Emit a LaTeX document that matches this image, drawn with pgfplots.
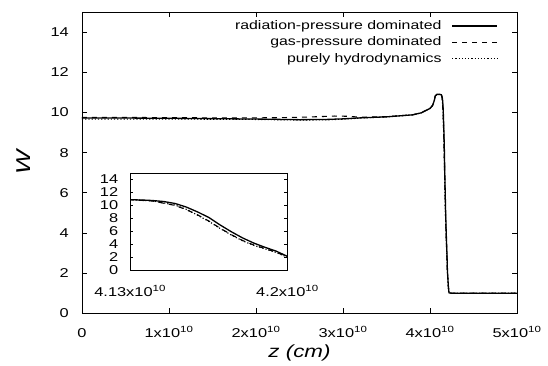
\documentclass[border=0pt]{standalone}
\usepackage{pgfplots}
\pgfplotsset{compat=1.18}
\usepackage{fontspec}
\setmainfont{Liberation Sans}[FakeStretch=1.28]
\newcommand{\tf}{\fontsize{12.8bp}{15bp}\selectfont}
\newcommand{\gf}{\fontsize{12.4bp}{15bp}\selectfont}
\newcommand{\lf}{\fontsize{17.5bp}{20bp}\selectfont\itshape}
\newcommand{\wf}{\fontsize{20bp}{22bp}\selectfont\itshape}
\newcommand{\sx}[1]{#1x10\textsuperscript{10}}

\pgfplotstableread{
z W
0.00 9.72
0.50 9.72
1.00 9.71
1.50 9.69
2.00 9.67
2.50 9.64
2.80 9.65
3.00 9.68
3.20 9.73
3.50 9.78
3.80 9.88
3.90 9.98
4.00 10.20
4.03 10.35
4.05 10.60
4.06 10.82
4.08 10.90
4.11 10.90
4.130 10.88
4.135 10.84
4.140 10.76
4.145 10.60
4.150 10.30
4.155 9.75
4.160 9.00
4.165 8.15
4.170 7.00
4.175 5.95
4.180 5.00
4.185 4.20
4.190 3.55
4.195 2.95
4.200 2.15
4.210 1.40
4.218 1.02
4.250 1.00
5.000 1.00
}\rad
\pgfplotstableread{
z W
0.00 9.75
0.50 9.75
1.00 9.74
1.50 9.73
2.00 9.73
2.30 9.74
2.60 9.77
2.90 9.82
3.05 9.81
3.20 9.76
3.50 9.79
3.80 9.88
3.90 9.98
4.00 10.20
4.03 10.35
4.05 10.60
4.06 10.82
4.08 10.90
4.11 10.90
4.130 10.88
4.140 10.68
4.150 10.00
4.155 9.35
4.160 8.55
4.165 7.60
4.170 6.50
4.175 5.50
4.180 4.60
4.185 3.90
4.190 3.35
4.195 2.80
4.200 2.05
4.210 1.35
4.218 1.02
4.250 1.00
5.000 1.00
}\gas
\pgfplotstableread{
z W
0.00 9.67
0.50 9.67
1.00 9.67
1.50 9.66
2.00 9.65
2.50 9.62
2.80 9.63
3.00 9.66
3.20 9.72
3.50 9.78
3.80 9.88
3.90 9.98
4.00 10.20
4.03 10.35
4.05 10.60
4.06 10.82
4.08 10.90
4.11 10.90
4.130 10.88
4.140 10.70
4.150 10.05
4.155 9.40
4.160 8.50
4.165 7.55
4.170 6.45
4.175 5.45
4.180 4.55
4.185 3.85
4.190 3.30
4.195 2.75
4.200 2.00
4.210 1.35
4.218 1.02
4.250 1.00
5.000 1.00
}\hyd

\begin{document}
\begin{tikzpicture}
\begin{axis}[
  name=main,
  at={(0,0)}, anchor=south west,
  scale only axis, width=435bp, height=301.3bp,
  xmin=0, xmax=5, ymin=0, ymax=15,
  xtick={0,1,2,3,4,5},
  xticklabels={0,\sx{1},\sx{2},\sx{3},\sx{4},\sx{5}},
  ytick={0,2,...,14},
  /pgf/number format/assume math mode=true,
  tick align=inside, major tick length=5bp,
  every tick/.style={black, line width=0.7bp},
  axis line style={line width=0.8bp},
  tick label style={font=\tf},
  xticklabel style={inner sep=0pt, anchor=base, yshift=-24bp},
  yticklabel style={inner sep=0pt, anchor=east, xshift=-13bp},
  xlabel={z (cm)}, ylabel={W},
  xlabel style={font=\lf, at={(axis description cs:0.5,0)}, anchor=center, yshift=-40bp},
  ylabel style={font=\wf, at={(axis description cs:0,0.5)}, anchor=center, yshift=58bp},
  legend style={draw=none, fill=none, font=\gf, at={(1,1)}, anchor=north east,
    xshift=-19bp, yshift=-8bp, inner sep=0pt, row sep=5bp, column sep=10bp,
    nodes={inner sep=0pt, text height=9bp, text depth=2.5bp}},
  legend cell align=right,
  legend plot pos=right,
  legend image code/.code={\draw[#1] (0bp,0bp) -- (45bp,0bp);},
]
\addplot[black, line width=1.3bp] table[x=z,y=W] {\rad};
\addlegendentry{radiation-pressure dominated}
\addplot[black, line width=1.1bp, dash pattern=on 5bp off 5bp] table[x=z,y=W] {\gas};
\addlegendentry{gas-pressure dominated}
\addplot[black, line width=1.1bp, dash pattern=on 1.2bp off 2bp] table[x=z,y=W] {\hyd};
\addlegendentry{purely hydrodynamics}
\end{axis}
\begin{axis}[
  at={(48bp,43bp)}, anchor=south west,
  scale only axis, width=157.3bp, height=97.3bp,
  xmin=4.13, xmax=4.2, ymin=0, ymax=15,
  xtick={4.13,4.2},
  xticklabels={\sx{4.13},\sx{4.2}},
  ytick={0,2,...,14},
  /pgf/number format/assume math mode=true,
  tick align=inside, major tick length=3bp,
  every tick/.style={black, line width=0.6bp},
  axis line style={line width=0.8bp},
  axis background/.style={fill=white},
  tick label style={font=\tf},
  xticklabel style={inner sep=0pt, anchor=base, yshift=-26bp},
  yticklabel style={inner sep=0pt, anchor=east, xshift=-11.7bp},
]
\addplot[black, line width=1.3bp] table[x=z,y=W] {\rad};
\addplot[black, line width=1.1bp, dash pattern=on 5bp off 5bp] table[x=z,y=W] {\gas};
\addplot[black, line width=1.1bp, dash pattern=on 1.2bp off 2bp] table[x=z,y=W] {\hyd};
\end{axis}
\pgfresetboundingbox
\path (-82bp,-52.7bp) rectangle (466bp,313.3bp);
\end{tikzpicture}
\end{document}
